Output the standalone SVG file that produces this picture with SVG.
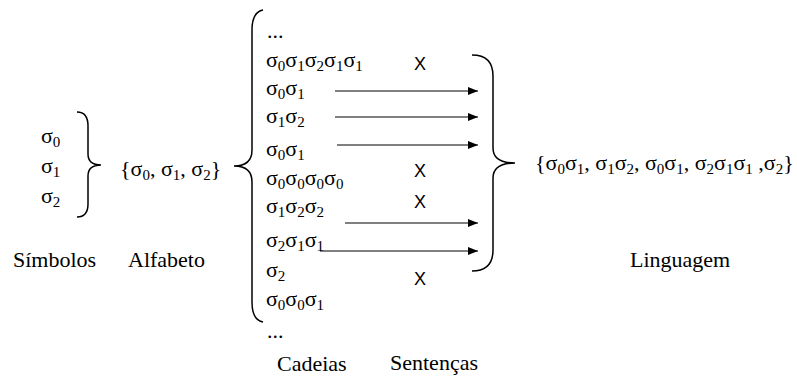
<svg xmlns="http://www.w3.org/2000/svg" width="797" height="376" viewBox="0 0 797 376">
<defs>
<style>
text{font-family:'Liberation Serif','Times New Roman',serif;font-size:22px;fill:#000}
.s{font-size:15px}
text.x{font-family:'Liberation Sans',Arial,sans-serif;font-size:18px;text-anchor:middle}
.br{fill:none;stroke:#000;stroke-width:1.5}
.ar{fill:none;stroke:#000;stroke-width:1.2;marker-end:url(#ah)}
</style>
<marker id="ah" viewBox="0 0 10 8" refX="10" refY="4" markerWidth="10" markerHeight="8" markerUnits="userSpaceOnUse" orient="auto">
<path d="M0,0 L10,4 L0,8 Z" fill="#000"/>
</marker>
</defs>
<rect width="797" height="376" fill="#fff"/>

<g id="simbolos">
<text x="41" y="143">σ<tspan class="s" dy="4">0</tspan></text>
<text x="41" y="173">σ<tspan class="s" dy="4">1</tspan></text>
<text x="41" y="203">σ<tspan class="s" dy="4">2</tspan></text>
<path class="br" d="M77,112 Q88,112 88,126 L88,154 Q88,165 101,165 Q88,165 88,176 L88,204 Q88,217 77,217"/>
<text x="13" y="267">Símbolos</text>
</g>

<g id="alfabeto">
<text x="120" y="176">{σ<tspan class="s" dy="4">0</tspan><tspan dy="-4">, σ</tspan><tspan class="s" dy="4">1</tspan><tspan dy="-4">, σ</tspan><tspan class="s" dy="4">2</tspan><tspan dy="-4">}</tspan></text>
<text x="128" y="267">Alfabeto</text>
</g>

<g id="cadeias">
<path class="br" d="M263,10 Q252,12 252,30 L252,150 Q252,166 234,166 Q252,166 252,182 L252,302 Q252,320 263,322"/>
<text x="267" y="38">...</text>
<text x="266" y="67">σ<tspan class="s" dy="4">0</tspan><tspan dy="-4">σ</tspan><tspan class="s" dy="4">1</tspan><tspan dy="-4">σ</tspan><tspan class="s" dy="4">2</tspan><tspan dy="-4">σ</tspan><tspan class="s" dy="4">1</tspan><tspan dy="-4">σ</tspan><tspan class="s" dy="4">1</tspan></text>
<text x="266" y="95">σ<tspan class="s" dy="4">0</tspan><tspan dy="-4">σ</tspan><tspan class="s" dy="4">1</tspan></text>
<text x="266" y="123">σ<tspan class="s" dy="4">1</tspan><tspan dy="-4">σ</tspan><tspan class="s" dy="4">2</tspan></text>
<text x="266" y="156">σ<tspan class="s" dy="4">0</tspan><tspan dy="-4">σ</tspan><tspan class="s" dy="4">1</tspan></text>
<text x="266" y="185">σ<tspan class="s" dy="4">0</tspan><tspan dy="-4">σ</tspan><tspan class="s" dy="4">0</tspan><tspan dy="-4">σ</tspan><tspan class="s" dy="4">0</tspan><tspan dy="-4">σ</tspan><tspan class="s" dy="4">0</tspan></text>
<text x="266" y="213">σ<tspan class="s" dy="4">1</tspan><tspan dy="-4">σ</tspan><tspan class="s" dy="4">2</tspan><tspan dy="-4">σ</tspan><tspan class="s" dy="4">2</tspan></text>
<text x="266" y="247">σ<tspan class="s" dy="4">2</tspan><tspan dy="-4">σ</tspan><tspan class="s" dy="4">1</tspan><tspan dy="-4">σ</tspan><tspan class="s" dy="4">1</tspan></text>
<text x="266" y="277">σ<tspan class="s" dy="4">2</tspan></text>
<text x="266" y="306">σ<tspan class="s" dy="4">0</tspan><tspan dy="-4">σ</tspan><tspan class="s" dy="4">0</tspan><tspan dy="-4">σ</tspan><tspan class="s" dy="4">1</tspan></text>
<text x="267" y="338">...</text>
<text x="277" y="371">Cadeias</text>
</g>

<g id="sentencas">
<text class="x" x="420" y="70">X</text>
<text class="x" x="420" y="177">X</text>
<text class="x" x="420" y="208">X</text>
<text class="x" x="420" y="285">X</text>
<text x="390" y="370">Sentenças</text>
</g>

<g id="connectors">
<line class="ar" x1="335" y1="91" x2="478" y2="91"/>
<line class="ar" x1="335" y1="117" x2="478" y2="117"/>
<line class="ar" x1="337" y1="145" x2="478" y2="145"/>
<line class="ar" x1="345" y1="223" x2="478" y2="223"/>
<line class="ar" x1="320" y1="251" x2="478" y2="251"/>
</g>

<g id="linguagem">
<path class="br" d="M472,55 Q493,55 493,76 L493,148 Q493,163 515,163 Q493,163 493,178 L493,250 Q493,271 472,271"/>
<text x="535" y="170">{σ<tspan class="s" dy="4">0</tspan><tspan dy="-4">σ</tspan><tspan class="s" dy="4">1</tspan><tspan dy="-4">, σ</tspan><tspan class="s" dy="4">1</tspan><tspan dy="-4">σ</tspan><tspan class="s" dy="4">2</tspan><tspan dy="-4">, σ</tspan><tspan class="s" dy="4">0</tspan><tspan dy="-4">σ</tspan><tspan class="s" dy="4">1</tspan><tspan dy="-4">, σ</tspan><tspan class="s" dy="4">2</tspan><tspan dy="-4">σ</tspan><tspan class="s" dy="4">1</tspan><tspan dy="-4">σ</tspan><tspan class="s" dy="4">1</tspan><tspan dy="-4"> ,σ</tspan><tspan class="s" dy="4">2</tspan><tspan dy="-4">}</tspan></text>
<text x="630" y="267">Linguagem</text>
</g>
</svg>
